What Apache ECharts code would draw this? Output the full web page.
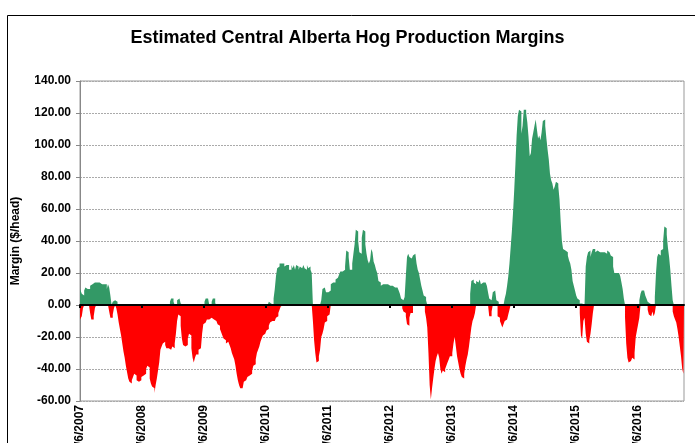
<!DOCTYPE html>
<html>
<head>
<meta charset="utf-8">
<title>Estimated Central Alberta Hog Production Margins</title>
<script src="https://cdn.jsdelivr.net/npm/echarts@6/dist/echarts.min.js"></script>
<style>
html, body { margin: 0; padding: 0; background: #fff; }
#chart { width: 695px; height: 443px; }
</style>
</head>
<body>
<div id="chart"></div>
<script>
// weekly margins, one array per year; green = above zero part, red = below zero part
const yearLabels = ['1/6/2007', '1/6/2008', '1/6/2009', '1/6/2010', '1/6/2011',
  '1/6/2012', '1/6/2013', '1/6/2014', '1/6/2015', '1/6/2016']

const pos2007 = [10, 9, 7, 6, 9, 11, 10, 11, 10, 12, 13, 13, 14, 13, 14, 13, 14, 14, 13, 14,
  13, 12, 13, 10, 13, 11, 6, 0, 2, 3, 3, 2, 0, 0, 0, 0, 0, 0, 0, 0, 0, 0, 0, 0, 0, 0, 0, 0, 0, 0, 0, 0]
const neg2007 = [-9, -9, -7, -2, 0, 0, 0, 0, 0, -5, -9, -9, -7, -2, 0, 0, 0, 0, 0, 0,
  0, 0, 0, 0, 0, -4, -8, -8, -6, -2, 0, -2, -6, -11, -15, -19, -24, -29, -33, -38,
  -42, -46, -48, -49, -47, -45, -43, -44, -47, -48, -49, -47]

const pos2008 = [0, 0, 0, 0, 0, 0, 0, 0, 0, 0, 0, 0, 0, 0, 0, 0, 0, 0, 0, 0,
  0, 0, 0, 0, 2, 4, 4, 2, 0, 0, 3, 4, 4, 1, 0, 0, 0, 0, 0, 0, 0, 0, 0, 0, 0, 0, 0, 0, 0, 0, 0, 0]
const neg2008 = [-45, -44, -44, -43, -40, -38, -39, -46, -49, -51, -52, -55, -50, -46, -41, -36, -28, -26, -24, -23,
  -25, -27, -27, -28, -28, -27, -26, -27, -24, -18, -10, -6, -7, -13, -21, -25, -26, -27, -25, -21,
  -18, -19, -27, -33, -36, -33, -31, -31, -28, -27, -26, -18]

const pos2009 = [0, 2, 4, 4, 3, 0, 0, 2, 4, 4, 1, 0, 0, 0, 0, 0, 0, 0, 0, 0,
  0, 0, 0, 0, 0, 0, 0, 0, 0, 0, 0, 0, 0, 0, 0, 0, 0, 0, 0, 0, 0, 0, 0, 0, 0, 0, 0, 0, 0, 0, 0, 0]
const neg2009 = [-12, -11, -10, -9, -9, -10, -8, -8, -9, -10, -10, -11, -12, -13, -15, -17, -19, -21, -22, -24,
  -23, -24, -25, -27, -30, -32, -34, -38, -43, -47, -50, -52, -52, -51, -48, -47, -46, -45, -44, -43,
  -43, -41, -38, -37, -34, -30, -28, -26, -23, -21, -19, -18]

const pos2010 = [0, 0, 1, 2, 1, 0, 0, 4, 10, 18, 23, 24, 26, 26, 25, 26, 24, 25, 26, 25,
  22, 22, 25, 23, 25, 22, 25, 24, 22, 24, 23, 24, 25, 23, 22, 25, 23, 24, 22, 20,
  0, 0, 0, 0, 0, 0, 0, 3, 10, 11, 10, 8]
const neg2010 = [-17, -16, -15, -13, -11, -10, -10, -10, -9, -8, -7, -5, -3, -1, 0, 0, 0, 0, 0, 0,
  0, 0, 0, 0, 0, 0, 0, 0, 0, 0, 0, 0, 0, 0, 0, 0, 0, 0, 0, 0,
  -10, -22, -30, -36, -35, -32, -28, -20, -18, -15, -11, -10]

const pos2011 = [8, 8, 9, 13, 14, 15, 14, 16, 17, 17, 19, 21, 21, 22, 22, 24, 34, 33, 30, 22,
  22, 26, 32, 38, 47, 46, 40, 33, 32, 42, 47, 46, 38, 32, 28, 26, 28, 35, 33, 27,
  25, 22, 20, 15, 14, 12, 13, 12, 13, 14, 13, 12]
const neg2011 = [-7, -6, -5, 0, 0, 0, 0, 0, 0, 0, 0, 0, 0, 0, 0, 0, 0, 0, 0, 0,
  0, 0, 0, 0, 0, 0, 0, 0, 0, 0, 0, 0, 0, 0, 0, 0, 0, 0, 0, 0, 0, 0, 0, 0, 0, 0, 0, 0, 0, 0, 0, 0]

const pos2012 = [12, 11, 12, 11, 11, 10, 11, 10, 9, 7, 4, 3, 4, 5, 18, 30, 32, 30, 29, 28,
  31, 32, 31, 26, 22, 20, 16, 12, 9, 6, 5, 3, 0, 0, 0, 0, 0, 0, 0, 0, 0, 0, 0, 0, 0, 0, 0, 0, 0, 0, 0, 0]
const neg2012 = [0, 0, 0, 0, 0, 0, 0, 0, 0, 0, 0, -2, -4, -5, -7, -12, -13, -8, -5, -5,
  0, 0, 0, 0, 0, 0, 0, 0, 0, 0, -4, -8, -14, -30, -50, -59, -52, -46, -40, -35,
  -32, -30, -33, -40, -43, -41, -42, -40, -38, -36, -34, -32]

const pos2013 = [0, 0, 0, 0, 0, 0, 0, 0, 0, 0, 0, 0, 0, 0, 0, 0, 7, 15, 16, 14,
  13, 15, 14, 15, 16, 13, 14, 13, 14, 13, 12, 8, 4, 3, 2, 8, 9, 8, 3, 2,
  0, 0, 0, 0, 0, 4, 7, 12, 18, 26, 36, 46]
const neg2013 = [-32, -30, -24, -20, -26, -32, -36, -40, -43, -45, -46, -43, -38, -34, -31, -26, -20, -14, -10, -8,
  -5, 0, 0, 0, 0, 0, 0, 0, 0, 0, 0, 0, -7, -7, -4, 0, 0, 0, 0, -7,
  -8, -10, -12, -14, -12, -10, -9, -8, -6, -3, 0, 0]

const pos2014 = [58, 72, 88, 106, 118, 122, 121, 107, 112, 122, 122, 120, 114, 105, 93, 95, 104, 108, 112, 116,
  110, 104, 106, 103, 108, 115, 116, 112, 104, 97, 91, 82, 78, 76, 72, 74, 77, 76, 74, 66,
  52, 40, 35, 34, 35, 33, 31, 28, 26, 22, 15, 12]
const neg2014 = [0, 0, 0, 0, 0, 0, 0, 0, 0, 0, 0, 0, 0, 0, 0, 0, 0, 0, 0, 0,
  0, 0, 0, 0, 0, 0, 0, 0, 0, 0, 0, 0, 0, 0, 0, 0, 0, 0, 0, 0, 0, 0, 0, 0, 0, 0, 0, 0, 0, 0, 0, 0]

const pos2015 = [9, 6, 4, 3, 1, 1, 1, 0, 0, 24, 30, 33, 34, 30, 33, 35, 35, 33, 34, 35,
  33, 34, 33, 34, 33, 33, 32, 34, 33, 33, 31, 30, 24, 20, 20, 21, 20, 20, 18, 14,
  10, 4, 0, 0, 0, 0, 0, 0, 0, 0, 0, 0]
const neg2015 = [0, 0, 0, 0, -5, -19, -21, -10, -8, -18, -23, -24, -22, -18, -12, -5, 0, 0, 0, 0,
  0, 0, 0, 0, 0, 0, 0, 0, 0, 0, 0, 0, 0, 0, 0, 0, 0, 0, 0, 0,
  0, 0, -8, -24, -33, -36, -35, -36, -33, -34, -30, -20]

const pos2016 = [0, 0, 3, 7, 9, 9, 8, 6, 4, 2, 1, 0, 0, 0, 0, 5, 20, 30, 32, 31,
  34, 35, 40, 49, 48, 44, 36, 30, 22, 12, 3, 0, 0, 0, 0, 0, 0, 0, 0, 0]
const neg2016 = [-16, -12, -8, 0, 0, 0, 0, 0, 0, -3, -6, -7, -6, -4, -7, -5, 0, 0, 0, 0,
  0, 0, 0, 0, 0, 0, 0, 0, 0, 0, -4, -7, -9, -11, -15, -20, -26, -32, -40, -43]

const posYears = [pos2007, pos2008, pos2009, pos2010, pos2011, pos2012, pos2013, pos2014, pos2015, pos2016]
const negYears = [neg2007, neg2008, neg2009, neg2010, neg2011, neg2012, neg2013, neg2014, neg2015, neg2016]

const weeks = []
const greenData = []
const redData = []
const tickLabel = {}
posYears.forEach((arr, k) => {
  arr.forEach((v, j) => {
    const cat = (2007 + k) + '-' + (j + 1)
    if (j === 0) tickLabel[cat] = yearLabels[k]
    weeks.push(cat)
    greenData.push(v)
    redData.push(negYears[k][j])
  })
})

const isYearStart = (i, v) => tickLabel[v] !== undefined
const font = '"Liberation Sans", Arial, sans-serif'

const chart = echarts.init(document.getElementById('chart'))
chart.setOption({
  animation: false,
  title: {
    text: 'Estimated Central Alberta Hog Production Margins',
    left: 'center',
    top: 24,
    textStyle: { fontFamily: font, fontSize: 18, fontWeight: 'bold', color: '#000' }
  },
  graphic: [{
    type: 'rect',
    z: -10,
    shape: { x: 7.5, y: 15.5, width: 800, height: 600 },
    style: { fill: 'none', stroke: '#000', lineWidth: 1 }
  }],
  grid: {
    left: 80,
    right: 11,
    top: 81,
    bottom: 42,
    containLabel: false,
    outerBoundsMode: 'none',
    show: true,
    borderColor: '#999',
    borderWidth: 1
  },
  xAxis: [{
    type: 'category',
    data: weeks,
    boundaryGap: false,
    position: 'bottom',
    axisLine: { show: false, onZero: false },
    axisTick: { show: false },
    axisLabel: {
      interval: isYearStart,
      formatter: v => tickLabel[v],
      rotate: 90,
      margin: 4,
      fontFamily: font,
      fontSize: 12,
      fontWeight: 'bold',
      color: '#000'
    },
    splitLine: { show: false }
  }, {
    type: 'category',
    data: weeks,
    boundaryGap: false,
    position: 'bottom',
    z: 10,
    axisLine: { onZero: true, lineStyle: { color: '#000', width: 2 } },
    axisTick: { show: true, interval: isYearStart, length: 3, lineStyle: { color: '#000', width: 2 } },
    axisLabel: { show: false },
    splitLine: { show: false }
  }],
  yAxis: {
    type: 'value',
    min: -60,
    max: 140,
    interval: 20,
    name: 'Margin ($/head)',
    nameLocation: 'middle',
    nameRotate: 90,
    nameGap: 58,
    nameTextStyle: { fontFamily: font, fontSize: 12, fontWeight: 'bold', color: '#000' },
    axisLine: { show: true, lineStyle: { color: '#888' } },
    axisTick: { show: true, length: 4, lineStyle: { color: '#888' } },
    axisLabel: {
      formatter: v => v.toFixed(2),
      margin: 9,
      fontFamily: font,
      fontSize: 12,
      fontWeight: 'bold',
      color: '#000'
    },
    splitLine: { lineStyle: { color: '#aaa', type: [2, 1] } }
  },
  series: [{
    name: 'Positive margin',
    type: 'line',
    step: 'middle',
    data: greenData,
    symbol: 'none',
    silent: true,
    lineStyle: { width: 0 },
    areaStyle: { color: '#339966', opacity: 1 }
  }, {
    name: 'Negative margin',
    type: 'line',
    step: 'middle',
    data: redData,
    symbol: 'none',
    silent: true,
    lineStyle: { width: 0 },
    areaStyle: { color: '#ff0000', opacity: 1 }
  }]
})
</script>
</body>
</html>
